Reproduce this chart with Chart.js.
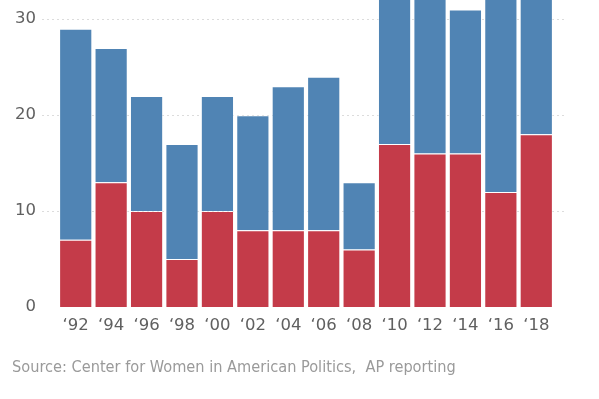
<!DOCTYPE html>
<html>
<head>
<meta charset="utf-8">
<script src="https://cdn.jsdelivr.net/npm/chart.js@4/dist/chart.umd.min.js"></script>
<style>
  body { margin: 0; background: #fff; }
  #wrap { position: relative; width: 599px; height: 399px; }
  #source {
    position: absolute; left: 12px; top: 357px;
    font-family: "DejaVu Sans Condensed", "Roboto", sans-serif;
    font-size: 16.2px; color: #9a9a9a; white-space: pre;
  }
</style>
</head>
<body>
<div id="wrap">
  <canvas id="chart" width="599" height="399"></canvas>
  <div id="source">Source: Center for Women in American Politics,  AP reporting</div>
</div>
<script>
var years = ["\u201892", "\u201894", "\u201896", "\u201898", "\u201800", "\u201802", "\u201804", "\u201806", "\u201808", "\u201810", "\u201812", "\u201814", "\u201816", "\u201818"];
// bottom segment (red)
var redValues = [7, 13, 10, 5, 10, 8, 8, 8, 6, 17, 16, 16, 12, 18];
// top segment (blue), total minus red; some totals run off the top of the chart
var blueValues = [22, 14, 12, 12, 12, 12, 15, 16, 7, 19, 20, 15, 24, 22];
var yTicks = [0, 10, 20, 30];

// dashed grid lines that run a bit past the bars on both sides
var dashedGrid = {
	id: "dashedGrid",
	beforeDatasetsDraw: function(chart) {
		var ctx = chart.ctx;
		var area = chart.chartArea;
		var y = chart.scales.y;
		ctx.save();
		ctx.strokeStyle = "#dcdcdc";
		ctx.lineWidth = 1;
		ctx.setLineDash([2, 3]);
		for (var i = 0; i < yTicks.length; i++) {
			if (yTicks[i] === 0) continue;
			var py = Math.round(y.getPixelForValue(yTicks[i])) + 0.5;
			ctx.beginPath();
			ctx.moveTo(area.left - 16, py);
			ctx.lineTo(area.right + 10, py);
			ctx.stroke();
		}
		ctx.restore();
	}
};

var chartdata = {
	labels: years,
	datasets: [
		{
			label: "red",
			data: redValues,
			backgroundColor: "#c43b49",
			borderColor: "rgba(255,255,255,0.45)",
			borderWidth: 1,
			barPercentage: 0.937,
			categoryPercentage: 1
		},
		{
			label: "blue",
			data: blueValues,
			backgroundColor: "#5084b4",
			borderColor: "rgba(255,255,255,0.45)",
			borderWidth: 1,
			barPercentage: 0.937,
			categoryPercentage: 1
		}
	]
};

var ctx = document.getElementById("chart");
var BarGraph = new Chart(ctx, {
	type: "bar",
	data: chartdata,
	plugins: [dashedGrid],
	options: {
		responsive: false,
		animation: false,
		layout: { autoPadding: false, padding: { top: 0, right: 45, bottom: 62, left: 0 } },
		plugins: {
			legend: { display: false },
			tooltip: { enabled: false }
		},
		scales: {
			x: {
				stacked: true,
				grid: { display: false },
				border: { display: false },
				ticks: {
					color: "#606060",
					padding: 1,
					font: { family: "DejaVu Sans", size: 16.5 }
				},
				afterFit: function(scale) {
					scale.height = 30;
					scale.paddingLeft = 0;
					scale.paddingRight = 0;
				}
			},
			y: {
				stacked: true,
				min: 0,
				max: 32,
				grid: { display: false, drawTicks: false },
				border: { display: false },
				afterBuildTicks: function(scale) {
					scale.ticks = yTicks.map(function(v) { return { value: v }; });
				},
				ticks: {
					color: "#606060",
					padding: 22,
					font: { family: "DejaVu Sans", size: 16.5 }
				},
				afterFit: function(scale) {
					scale.width = 58;
					scale.paddingTop = 0;
					scale.paddingBottom = 0;
				}
			}
		}
	}
});
</script>
</body>
</html>
